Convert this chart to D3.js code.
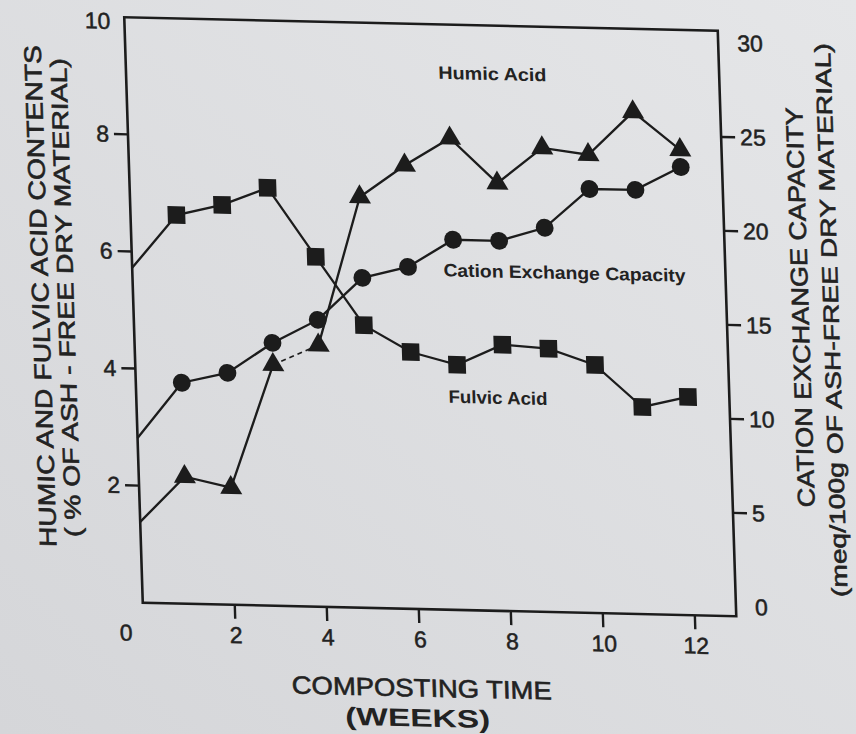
<!DOCTYPE html>
<html>
<head>
<meta charset="utf-8">
<title>Humic, fulvic acid and CEC during composting</title>
<script src="https://cdn.jsdelivr.net/npm/d3@7"></script>
<style>
  body { margin: 0; background: #dfe0e2; }
  svg { display: block; }
  text { font-family: "Liberation Sans", Arial, sans-serif; fill: #222; }
</style>
</head>
<body>
<svg id="chart" width="856" height="734"></svg>
<script>
// values (week 0..12)
var weeks  = [0, 1, 2, 3, 4, 5, 6, 7, 8, 9, 10, 11, 12];
var fulvic = [5.72, 6.64, 6.83, 7.14, 5.98, 4.83, 4.39, 4.19, 4.55, 4.50, 4.24, 3.54, 3.73];
var humic  = [1.38, 2.17, 2.00, 4.12, 4.47, 7.02, 7.58, 8.06, 7.31, 7.93, 7.83, 8.58, 7.95];
var cec    = [8.27, 11.26, 11.84, 13.49, 14.77, 17.06, 17.70, 19.20, 19.20, 19.95, 22.07, 22.08, 23.35];

var xTicks     = [0, 2, 4, 6, 8, 10, 12];
var leftTicks  = [2, 4, 6, 8, 10];
var rightTicks = [0, 5, 10, 15, 20, 25, 30];

var seriesNames = ["Humic  Acid", "Cation  Exchange  Capacity", "Fulvic  Acid"];
var leftTitle   = ["HUMIC AND FULVIC ACID CONTENTS", "( % OF ASH - FREE DRY MATERIAL)"];
var rightTitle  = ["CATION EXCHANGE CAPACITY", "(meq/100g OF ASH-FREE DRY MATERIAL)"];
var xTitle      = ["COMPOSTING TIME", "(WEEKS)"];

var ink = "#1c1c1c";
var svg = d3.select("#chart");

// paper background, a bit darker at the lower left like the photo
var grad = svg.append("defs").append("linearGradient")
    .attr("id", "paper").attr("x1", 1).attr("y1", 0).attr("x2", 0).attr("y2", 1);
grad.append("stop").attr("offset", 0).attr("stop-color", "#e5e6e8");
grad.append("stop").attr("offset", 1).attr("stop-color", "#d5d6d9");
svg.append("rect").attr("width", 856).attr("height", 734).attr("fill", "url(#paper)");

// the page was photographed slightly skewed
var g = svg.append("g").attr("transform", "matrix(1,0.02275,0.0316,1,-10,-9.8)");

var L = 133.5, R = 727, T = 24, B = 609.5;
var tick = 14;

var x  = d3.scaleLinear().domain([0, 12.9]).range([L, R]);
var yL = d3.scaleLinear().domain([0, 10]).range([B, T]);
var yR = d3.scaleLinear().domain([-0.5, 30.65]).range([B, T]);

function styleAxis(sel) {
  sel.select(".domain").remove();
  sel.selectAll(".tick line").remove();
  sel.selectAll(".tick text").style("font-size", "23px")
    .attr("fill", "#222").attr("stroke", "#222").attr("stroke-width", 0.5);
}

// left axis labels
var axL = g.append("g").attr("transform", "translate(" + L + ",0)")
  .call(d3.axisLeft(yL).tickValues(leftTicks).tickSize(tick).tickPadding(5).tickFormat(d3.format("d")));
styleAxis(axL);
axL.selectAll(".tick text").filter(function(d) { return d === 10; }).attr("dy", "0.5em").attr("x", -14);

// right axis labels
var axR = g.append("g").attr("transform", "translate(" + R + ",0)")
  .call(d3.axisRight(yR).tickValues(rightTicks).tickSize(tick).tickPadding(5).tickFormat(d3.format("d")));
styleAxis(axR);

// bottom axis labels
var axB = g.append("g").attr("transform", "translate(0," + B + ")")
  .call(d3.axisBottom(x).tickValues(xTicks).tickSize(tick).tickPadding(8).tickFormat(d3.format("d")));
styleAxis(axB);
axB.selectAll(".tick text").filter(function(d) { return d === 0; }).attr("x", -18);

// tick marks (none at the corners / at 30)
var tk = g.append("g").attr("stroke", ink).attr("stroke-width", 2.4);
tk.selectAll(".tl").data(leftTicks.filter(function(d) { return d < 10; })).enter().append("line")
  .attr("x1", L - tick).attr("x2", L).attr("y1", yL).attr("y2", yL);
tk.selectAll(".tr").data(rightTicks.filter(function(d) { return d > 0 && d < 30; })).enter().append("line")
  .attr("x1", R).attr("x2", R + tick).attr("y1", yR).attr("y2", yR);
tk.selectAll(".tb").data(xTicks.filter(function(d) { return d > 0; })).enter().append("line")
  .attr("x1", x).attr("x2", x).attr("y1", B).attr("y2", B + tick);

// frame
g.append("rect").attr("x", L).attr("y", T).attr("width", R - L).attr("height", B - T)
  .attr("fill", "none").attr("stroke", ink).attr("stroke-width", 2.6);

function pts(vals) { return weeks.map(function(w, i) { return { w: w, v: vals[i] }; }); }
var lineL = d3.line().x(function(d) { return x(d.w); }).y(function(d) { return yL(d.v); });
var lineR = d3.line().x(function(d) { return x(d.w); }).y(function(d) { return yR(d.v); });

var fP = pts(fulvic), hP = pts(humic), cP = pts(cec);

function drawLine(data, gen, dash) {
  g.append("path").datum(data).attr("d", gen)
    .attr("fill", "none").attr("stroke", ink).attr("stroke-width", dash ? 1.6 : 2.3)
    .attr("stroke-dasharray", dash ? "5,4" : null);
}
drawLine(fP, lineL);
drawLine(cP, lineR);
drawLine(hP.slice(0, 4), lineL);
drawLine(hP.slice(3, 5), lineL, true);
drawLine(hP.slice(4), lineL);

// markers (none at week 0)
function drawMarks(data, sc, type, size) {
  g.selectAll(null).data(data.filter(function(d) { return d.w > 0; })).enter()
    .append("path")
    .attr("d", d3.symbol().type(type).size(size))
    .attr("transform", function(d) { return "translate(" + x(d.w) + "," + sc(d.v) + ")"; })
    .attr("fill", ink);
}
drawMarks(fP, yL, d3.symbolSquare, 310);
drawMarks(cP, yR, d3.symbolCircle, 250);
drawMarks(hP, yL, d3.symbolTriangle, 210);

// series labels
var labelPos = [[446, 78.5, 108], [445, 276, 242], [446, 402.5, 99]];
g.selectAll(".slab").data(seriesNames).enter().append("text")
  .attr("class", "slab")
  .attr("x", function(d, i) { return labelPos[i][0]; })
  .attr("y", function(d, i) { return labelPos[i][1]; })
  .attr("textLength", function(d, i) { return labelPos[i][2]; })
  .attr("lengthAdjust", "spacingAndGlyphs")
  .style("font-size", "18px").style("font-weight", "bold")
  .text(function(d) { return d; });

// axis titles
function vTitle(txt, u, v, len, size) {
  g.append("text").attr("transform", "translate(" + u + "," + v + ") rotate(-90)")
    .attr("text-anchor", "middle").attr("textLength", len).attr("lengthAdjust", "spacingAndGlyphs")
    .attr("stroke", "#222").attr("stroke-width", 0.6)
    .style("font-size", size + "px").text(txt);
}
vTitle(leftTitle[0], 49, 305, 502, 24);
vTitle(leftTitle[1], 74, 306, 479, 23);
vTitle(rightTitle[0], 809, 299, 400, 24);
vTitle(rightTitle[1], 839, 311, 554, 22);

g.append("text").attr("x", 410).attr("y", 697).attr("text-anchor", "middle")
  .attr("textLength", 260).attr("lengthAdjust", "spacingAndGlyphs")
  .attr("stroke", "#222").attr("stroke-width", 0.6)
  .style("font-size", "25px").text(xTitle[0]);
g.append("text").attr("x", 405).attr("y", 727).attr("text-anchor", "middle")
  .attr("textLength", 145).attr("lengthAdjust", "spacingAndGlyphs")
  .style("font-size", "25px").style("font-weight", "bold").text(xTitle[1]);
</script>
</body>
</html>
